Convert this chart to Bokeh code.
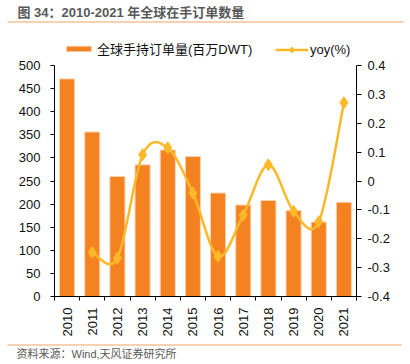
from math import pi
from bokeh.plotting import figure
from bokeh.layouts import column
from bokeh.models import (Range1d, LinearAxis, FixedTicker, CustomJSTickFormatter,
                          Legend, LegendItem, ColumnDataSource)
from bokeh.core.properties import value
from bokeh.embed import file_html
from bokeh.resources import INLINE

# ---------------- data ----------------
years = ["2010", "2011", "2012", "2013", "2014", "2015",
         "2016", "2017", "2018", "2019", "2020", "2021"]
orders = [471, 356, 260, 285, 317, 303, 224, 198, 208, 186, 161, 204]
yoy = [None, -0.247, -0.267, 0.091, 0.115, -0.042, -0.261, -0.118, 0.056, -0.105, -0.141, 0.271]
left_ticks = [0, 50, 100, 150, 200, 250, 300, 350, 400, 450, 500]
right_ticks = [-0.4, -0.3, -0.2, -0.1, 0.0, 0.1, 0.2, 0.3, 0.4]
left_bounds = (0, 500)
right_bounds = (-0.4, 0.4)

TITLE = "图 34：2010-2021 年全球在手订单数量"
SOURCE = "资料来源：Wind,天风证券研究所"
BAR_LABEL = "全球手持订单量(百万DWT)"
LINE_LABEL = "yoy(%)"

FONT = "'Liberation Sans', 'Noto Sans CJK SC'"
BAR_COLOR = "#F58220"
LINE_COLOR = "#FBB829"
RULE_COLOR = "#F2A468"
W = 410
AXIS_PX = 231    # pixel height of the axes' span
FRAME_PX = 256   # frame height (axis span + room for the legend)
EXT = FRAME_PX / AXIS_PX


def strip(h):
    f = figure(width=W, height=h, output_backend="svg", toolbar_location=None, title=None,
               x_range=Range1d(0, W), y_range=Range1d(h, 0), frame_align=False,
               min_border=0, x_axis_location=None, y_axis_location=None)
    f.xgrid.visible = False
    f.ygrid.visible = False
    f.outline_line_color = None
    return f


# ---------------- title strip ----------------
top = strip(30)
top.text(x=[17], y=[11.5], text=[TITLE], text_font=value(FONT), text_font_size="13px",
         text_font_style="bold", text_color="#595959", text_baseline="middle")
top.line(x=[7, 403], y=[21.5, 21.5], line_color=RULE_COLOR, line_width=1.2)

# ---------------- main chart ----------------
lo, hi = left_bounds
rlo, rhi = right_bounds
p = figure(width=W, height=310, output_backend="svg", toolbar_location=None, title=None,
           x_range=Range1d(0, len(years)), y_range=Range1d(lo, lo + (hi - lo) * EXT),
           frame_align=False, frame_width=302, frame_height=FRAME_PX,
           min_border_left=54, min_border_right=54, min_border_top=10, min_border_bottom=44)
p.xgrid.visible = False
p.ygrid.visible = False
p.outline_line_color = None
p.extra_y_ranges = {"yoy": Range1d(rlo, rlo + (rhi - rlo) * EXT)}

xs = [i + 0.5 for i in range(len(years))]
src = ColumnDataSource(dict(x=xs, top=orders))
bars = p.vbar(x="x", top="top", width=0.6, source=src, fill_color=BAR_COLOR,
              line_color="#FCD3B2", line_width=1)

# smooth (Catmull-Rom style) yoy curve via bezier segments
pts = [(x, v) for x, v in zip(xs, yoy) if v is not None]
n = len(pts)
seg = dict(x0=[], y0=[], x1=[], y1=[], cx0=[], cy0=[], cx1=[], cy1=[])
for j in range(n - 1):
    p0 = pts[j - 1] if j > 0 else pts[j]
    p1 = pts[j]
    p2 = pts[j + 1]
    p3 = pts[j + 2] if j + 2 < n else pts[j + 1]
    seg["x0"].append(p1[0]); seg["y0"].append(p1[1])
    seg["x1"].append(p2[0]); seg["y1"].append(p2[1])
    seg["cx0"].append(p1[0] + (p2[0] - p0[0]) / 6); seg["cy0"].append(p1[1] + (p2[1] - p0[1]) / 6)
    seg["cx1"].append(p2[0] - (p3[0] - p1[0]) / 6); seg["cy1"].append(p2[1] - (p3[1] - p1[1]) / 6)
curve = p.bezier(source=ColumnDataSource(seg), x0="x0", y0="y0", x1="x1", y1="y1",
                 cx0="cx0", cy0="cy0", cx1="cx1", cy1="cy1",
                 line_color=LINE_COLOR, line_width=2.5, y_range_name="yoy")
marks = p.scatter(x=[q[0] for q in pts], y=[q[1] for q in pts], marker="diamond", size=12,
                  fill_color=LINE_COLOR, line_color=LINE_COLOR, y_range_name="yoy")

# axes
xa = p.xaxis[0]
xa.ticker = FixedTicker(ticks=xs, minor_ticks=list(range(len(years) + 1)))
xa.formatter = CustomJSTickFormatter(args=dict(labels=years),
                                     code="return labels[Math.floor(tick)];")
xa.major_tick_out = 0
xa.major_tick_in = 0
xa.minor_tick_out = 4
xa.minor_tick_in = 0
xa.major_label_orientation = pi / 2
xa.major_label_standoff = 7

ya = p.yaxis[0]
ya.ticker = FixedTicker(ticks=left_ticks)
ya.bounds = left_bounds
ya.major_tick_out = 4
ya.major_tick_in = 0
ya.minor_tick_out = 0
ya.minor_tick_in = 0
ya.major_label_standoff = 10

ra = LinearAxis(y_range_name="yoy", ticker=FixedTicker(ticks=right_ticks), bounds=right_bounds)
ra.formatter = CustomJSTickFormatter(code="const v = Math.round(tick*10)/10; return v === 0 ? '0' : String(v);")
ra.major_tick_out = 5
ra.major_tick_in = 0
ra.minor_tick_out = 0
ra.minor_tick_in = 0
ra.major_label_standoff = 6
p.add_layout(ra, "right")

for ax in (xa, ya, ra):
    ax.axis_line_color = "#000000"
    ax.major_tick_line_color = "#000000"
    ax.minor_tick_line_color = "#000000"
    ax.major_label_text_font = FONT
    ax.major_label_text_font_size = "13px"
    ax.major_label_text_color = "#111111"

# legends in the top band of the frame (one per series, for separate glyph sizing)
common = dict(orientation="horizontal", label_height=16, padding=0, margin=0,
              border_line_color=None, background_fill_alpha=0, label_text_font=FONT,
              label_text_font_size="13px", label_text_color="#111111")
leg_bar = Legend(items=[LegendItem(label=BAR_LABEL, renderers=[bars])],
                 location=(9, 238.5), glyph_width=31, glyph_height=7, label_standoff=3, **common)
leg_line = Legend(items=[LegendItem(label=LINE_LABEL, renderers=[curve, marks])],
                  location=(221, 238.5), glyph_width=33, glyph_height=15, label_standoff=2, **common)
p.add_layout(leg_bar, "center")
p.add_layout(leg_line, "center")

# ---------------- source strip ----------------
bot = strip(24)
bot.line(x=[7, 401], y=[4.5, 4.5], line_color=RULE_COLOR, line_width=1.2)
bot.text(x=[16], y=[13], text=[SOURCE], text_font=value(FONT), text_font_size="11px",
         text_color="#595959", text_baseline="middle")

layout = column(top, p, bot, spacing=0)
open("out.html", "w").write(file_html(layout, INLINE))
